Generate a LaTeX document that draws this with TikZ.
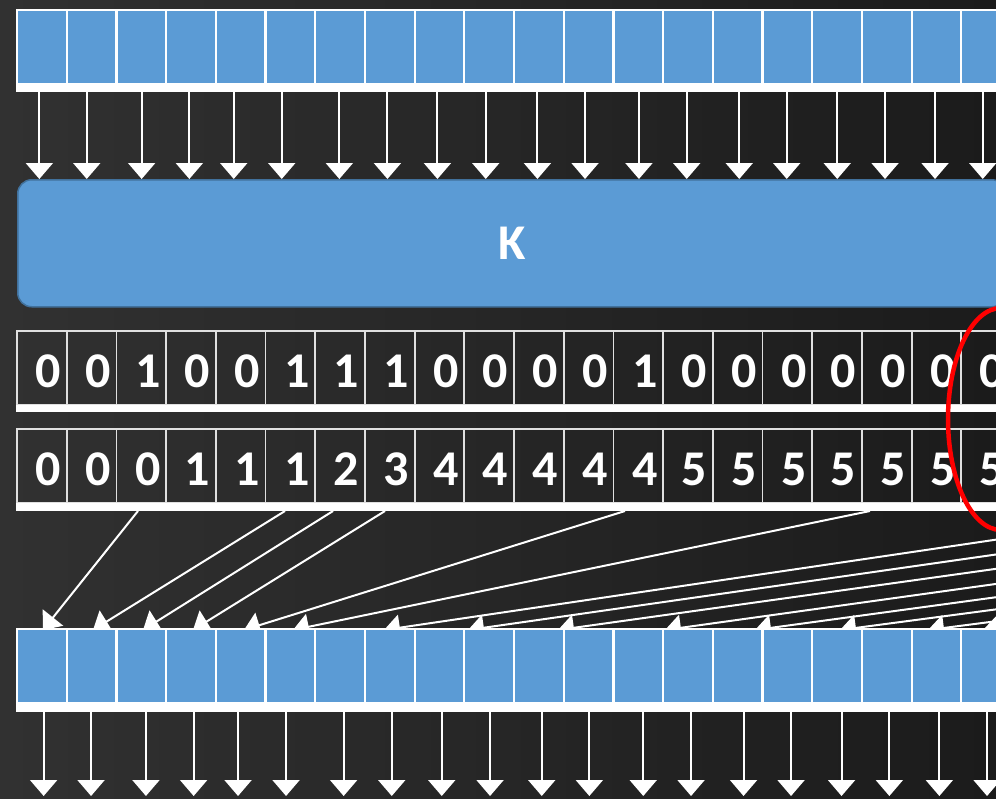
\documentclass[tikz,border=0pt]{standalone}
\usepackage{fontspec}
\setmainfont{Carlito}
\usetikzlibrary{arrows.meta,calc}
\definecolor{cellblue}{HTML}{5B9BD5}
\definecolor{boxedge}{HTML}{41719C}
\definecolor{bgleft}{HTML}{313131}
\definecolor{bgright}{HTML}{1B1B1B}

\begin{document}
\begin{tikzpicture}[x=1pt,y=-1pt,
	cellb/.style={ draw=white, line width=2.2pt, fill=cellblue, inner sep=0pt, outer sep=0pt, minimum width=49.7pt, minimum height=74pt, anchor=north west },
	celld/.style={ draw=white!88!black, line width=1.8pt, inner sep=0pt, outer sep=0pt, minimum width=49.7pt, minimum height=74pt, anchor=north west },
	digit/.style={ text=white, inner sep=0pt, font=\bfseries\fontsize{50}{50}\selectfont },
	arr/.style={ white, line width=2pt, -{Triangle[width=27pt,length=16pt]} },
	scat/.style={ white, line width=2pt, -{Triangle[width=26pt,length=16pt]} }
]

\useasboundingbox (0,0) rectangle (996,798);
\shade[left color=bgleft, right color=bgright] (0,0) rectangle (996,798);
\clip (0,0) rectangle (996,798);

% input row
\foreach \i in {0,...,20}
	\node at (17+49.7*\i,10) (t\i) [cellb] {};
\fill[white] (15.9,84) rectangle (1100,92);
\foreach \o [count=\i from 0] in {-2.5,-4.8,0.4,-1.6,-6.9,-8.6,-0.7,-2.3,-2.0,-3.4,-1.4,-3.5,0.7,-1.2,1.6,-0.6,0.2,-1.7,-1.4,-3.4}
	\draw[arr] ([xshift=\o pt]t\i.south) -- ++(0,95);

\node at (17,179) (K) [anchor=north west, rounded corners=14pt, fill=cellblue, draw=boxedge, line width=1.5pt,
	minimum width=988pt, minimum height=127pt, text=white, font=\bfseries\fontsize{50}{50}\selectfont] {K};

% flags
\foreach \b [count=\i from 0] in {0,0,1,0,0,1,1,1,0,0,0,0,1,0,0,0,0,0,0,0} {
	\node at (17+49.7*\i,331) (f\i) [celld] {};
	\node at ($(f\i.center)+(6.5,3.5)$) (fd\i) [digit] {\b};
}
\node at (17+49.7*20,331) (f20) [celld] {};
\fill[white] (15.9,405) rectangle (1100,412);

% scan
\foreach \b [count=\i from 0] in {0,0,0,1,1,1,2,3,4,4,4,4,4,5,5,5,5,5,5,5} {
	\node at (17+49.7*\i,429) (m\i) [celld] {};
	\node at ($(m\i.center)+(6.5,3)$) (md\i) [digit] {\b};
}
\node at (17+49.7*20,429) (m20) [celld] {};
\fill[white] (15.9,503) rectangle (1100,511);

% scatter
\foreach \x [count=\j from 0] in {43,93,143,193,244,293,384,468,558,665,755,840,928,983}
	\coordinate (in\j) at (\x,630);
\foreach \s/\dx/\j in {2/-3.25/0,5/-5.35/1,6/-7/2,7/-4.75/3,12/-13.25/4,17/-16.75/5}
	\draw[scat] ($(m\s.south)+(\dx,8)$) -- (in\j);
\foreach \x [count=\j from 6] in {1190,1300,1410,1520,1630,1740,1850,1960} {
	\coordinate (far\j) at (\x,511);
	\draw[scat] (far\j) -- (in\j);
}

% output row
\foreach \i in {0,...,20}
	\node at (17+49.7*\i,629) (o\i) [cellb] {};
\fill[white] (15.9,704) rectangle (1100,712);
\foreach \o [count=\i from 0] in {-2.5,-4.8,0.4,-1.6,-6.9,-8.6,-0.7,-2.3,-2.0,-3.4,-1.4,-3.5,0.7,-1.2,1.6,-0.6,0.2,-1.7,-1.4,-3.4}
	\draw[arr] ([xshift={\o pt+4.3pt}]o\i.south) -- ++(0,93);

\draw[red, line width=4.5pt] (1001,419) ellipse [x radius=53, y radius=111];

\end{tikzpicture}
\end{document}
